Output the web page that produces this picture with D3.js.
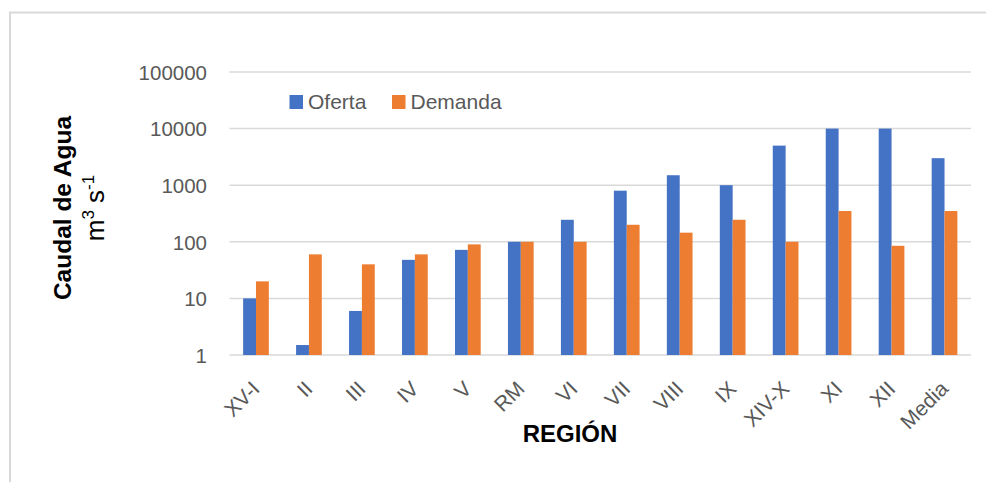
<!DOCTYPE html>
<html><head><meta charset="utf-8">
<script src="https://cdn.jsdelivr.net/npm/d3@7"></script>
<style>body{margin:0;background:#fff}svg{display:block}</style>
</head><body>
<svg id="c" width="986" height="482"></svg>
<script>
const categories = ["XV-I","II","III","IV","V","RM","VI","VII","VIII","IX","XIV-X","XI","XII","Media"];
const oferta  = [10, 1.5, 6, 48, 72, 100, 245, 800, 1500, 1000, 5000, 10000, 10000, 3000];
const demanda = [20, 60, 40, 60, 90, 100, 100, 200, 145, 245, 100, 350, 85, 350];
const seriesNames = ["Oferta","Demanda"];
const yTicks = [1, 10, 100, 1000, 10000, 100000];

(function(){
const svg = d3.select("#c");
const font = "'Liberation Sans', Arial, sans-serif";
const colors = ["#4472C4", "#ED7D31"];

// frame
svg.append("rect").attr("x",10).attr("y",12.5).attr("width",990).attr("height",480)
  .attr("fill","none").attr("stroke","#d9d9d9").attr("stroke-width",2);

const pLeft = 229.5, pRight = 971, pTop = 72, pBottom = 355;
const x = d3.scaleBand().domain(categories).range([pLeft, pRight]).paddingInner(0).paddingOuter(0);
const y = d3.scaleLog().domain([1, 100000]).range([pBottom, pTop]);

// gridlines
svg.append("g").selectAll("line").data(yTicks).join("line")
  .attr("x1", pLeft).attr("x2", pRight)
  .attr("y1", d => y(d)).attr("y2", d => y(d))
  .attr("stroke", "#d9d9d9").attr("stroke-width", 1.5);

// y axis labels
const yAxis = d3.axisLeft(y).tickValues(yTicks).tickFormat(d3.format("d")).tickSize(0).tickPadding(0);
const ga = svg.append("g").attr("transform", `translate(207,0)`).call(yAxis);
ga.select(".domain").remove();
ga.selectAll("text").attr("font-family", font).attr("font-size", 20.5).attr("fill", "#595959").attr("dy","0.36em");

// bars
const bw = x.bandwidth() * 12.85 / 52.96;
const series = [oferta, demanda];
series.forEach((vals, si) => {
  svg.append("g").selectAll("rect").data(categories).join("rect")
    .attr("x", c => x(c) + x.bandwidth()/2 - bw + si*bw)
    .attr("y", (c,i) => y(vals[i]))
    .attr("width", bw)
    .attr("height", (c,i) => y(1) - y(vals[i]))
    .attr("fill", colors[si]);
});

// x labels
const xAxis = d3.axisBottom(x).tickSize(0).tickPadding(0);
const gx = svg.append("g").attr("transform", `translate(0,${pBottom})`).call(xAxis);
gx.select(".domain").remove();
gx.selectAll("text")
  .attr("font-family", font).attr("font-size", 21).attr("fill", "#595959")
  .attr("text-anchor", "end").attr("dy", 0).attr("y", 0)
  .attr("transform", "translate(5,35) rotate(-45)");

// legend
const lg = svg.append("g");
const legX = [289.5, 392];
seriesNames.forEach((n, i) => {
  lg.append("rect").attr("x", legX[i]).attr("y", 95).attr("width", 13.5).attr("height", 14).attr("fill", colors[i]);
  lg.append("text").attr("x", legX[i] + 18.5).attr("y", 109).attr("font-family", font).attr("font-size", 21)
    .attr("fill", "#595959").text(n);
});

// axis titles
svg.append("text").attr("transform", "translate(71,208) rotate(-90)").attr("text-anchor","middle")
  .attr("font-family", font).attr("font-size", 24.5).attr("font-weight","bold").attr("fill","#000")
  .text("Caudal de Agua");
const t2 = svg.append("text").attr("transform", "translate(104,208) rotate(-90)").attr("text-anchor","middle")
  .attr("font-family", font).attr("font-size", 26).attr("fill","#000");
t2.append("tspan").text("m");
t2.append("tspan").attr("font-size", 17).attr("dy", -10).text("3");
t2.append("tspan").attr("dy", 10).text(" s");
t2.append("tspan").attr("font-size", 17).attr("dy", -10).text("-1");

svg.append("text").attr("x", 570).attr("y", 442).attr("text-anchor","middle")
  .attr("font-family", font).attr("font-size", 24).attr("font-weight","bold").attr("fill","#000")
  .text("REGIÓN");
})();
</script>
</body></html>
